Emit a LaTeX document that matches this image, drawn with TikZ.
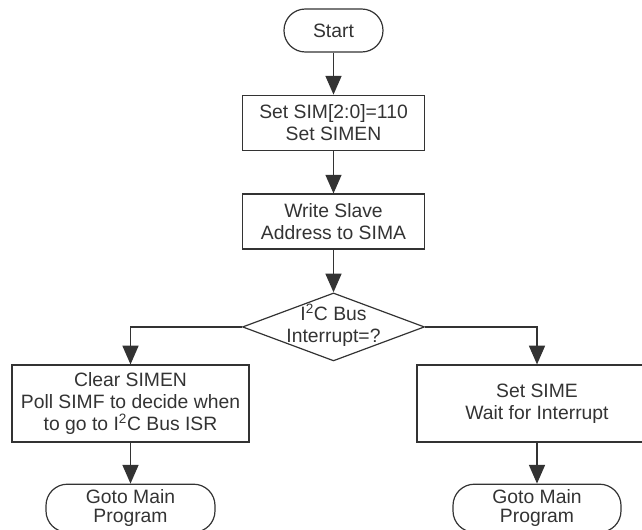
\documentclass[tikz,border=0pt]{standalone}
\usepackage{fontspec}
\setmainfont{Liberation Sans}
\usetikzlibrary{arrows.meta,positioning,shapes.geometric}

\definecolor{flowgray}{HTML}{333333}
\newcommand{\flowfont}{\fontsize{14.5}{16.3}\selectfont}

\begin{document}
\begin{tikzpicture}[
    x=0.75pt, y=-0.75pt,
    node distance=31.5pt and 30pt,
    every node/.style={text=flowgray, font=\flowfont},
    terminal/.style={
        draw=flowgray,
        line width=0.9pt,
        rounded corners=16pt,
        align=center,
        inner sep=0pt
    },
    procbox/.style={
        draw=flowgray,
        line width=0.9pt,
        align=center,
        inner sep=0pt
    },
    decision/.style={
        draw=flowgray,
        line width=0.9pt,
        diamond,
        inner sep=0pt,
        minimum width=136.5pt,
        minimum height=51pt
    },
    line/.style={-{Triangle[length=14pt,width=12pt]}, line width=1pt, draw=flowgray}
]
    \clip (0,0) rectangle (642,529);

    \node[terminal, minimum width=74.25pt, minimum height=32.25pt] (start) at (333.5,30.5) {Start};
    \node[procbox, below=of start, minimum width=136.5pt, minimum height=41.25pt] (setsim) {Set SIM[2:0]=110\\Set SIMEN};
    \node[procbox, below=32pt of setsim, minimum width=136.5pt, minimum height=41.25pt] (writeaddr) {Write Slave\\Address to SIMA};
    \node[decision, below=32pt of writeaddr,
          label={[align=center, yshift=1pt]center:I\textsuperscript{2}C Bus\\Interrupt=?}] (busint) {};

    \node[procbox, minimum width=177.75pt, minimum height=57.75pt] (poll) at (130.5,403.5)
        {Clear SIMEN\\Poll SIMF to decide when\\to go to I\textsuperscript{2}C Bus ISR};
    \node[procbox, minimum width=180pt, minimum height=57.75pt] (setsime) at (537,403.5)
        {Set SIME\\Wait for Interrupt};

    \node[terminal, below=30.75pt of poll, minimum width=126.75pt, minimum height=36pt] (mainleft) {Goto Main\\[-2pt]Program};
    \node[terminal, below=30.75pt of setsime, minimum width=126pt, minimum height=36pt] (mainright) {Goto Main\\[-2pt]Program};

    \draw[line] (start) -- (setsim);
    \draw[line] (setsim) -- (writeaddr);
    \draw[line] (writeaddr) -- (busint);
    \draw[line] (busint.west) -| (poll.north);
    \draw[line] (busint.east) -| (setsime.north);
    \draw[line] (poll) -- (mainleft);
    \draw[line] (setsime) -- (mainright);
\end{tikzpicture}
\end{document}
